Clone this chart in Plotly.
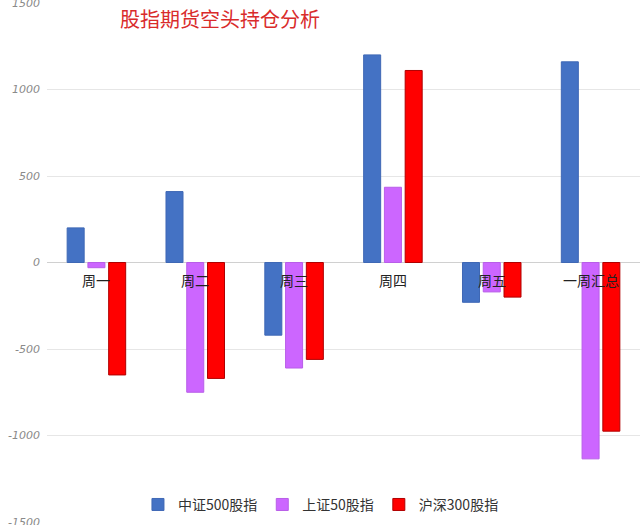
import plotly.graph_objects as go

categories = ["周一", "周二", "周三", "周四", "周五", "一周汇总"]
series_names = ["中证500股指", "上证50股指", "沪深300股指"]
zz500 = [200, 410, -420, 1200, -230, 1160]
sz50 = [-30, -750, -610, 435, -170, -1135]
hs300 = [-650, -670, -560, 1110, -200, -975]
colors = ["#4472C4", "#CC66FF", "#FF0000"]
line_colors = ["#3f68b5", "#b85ee8", "#b00000"]
y_ticks = [-1500, -1000, -500, 0, 500, 1000, 1500]

fig = go.Figure()
for name, vals, c, lc in zip(series_names, [zz500, sz50, hs300], colors, line_colors):
    fig.add_trace(go.Bar(x=categories, y=vals, name=name,
                         marker=dict(color=c, line=dict(color=lc, width=1))))

for cat in categories:
    fig.add_annotation(x=cat, y=0, xref="x", yref="y", text=cat, showarrow=False,
                       yanchor="top", yshift=-5,
                       font=dict(family="Noto Sans CJK SC", size=14, color="#222222"))

fig.update_layout(
    width=640, height=525,
    margin=dict(l=47, r=0, t=3, b=3, autoexpand=False),
    paper_bgcolor="white", plot_bgcolor="white",
    barmode="group", bargap=0.37, bargroupgap=0.18,
    title=dict(text="股指期货空头持仓分析", x=0.1875, xanchor="left", y=0.962, yanchor="middle",
               pad=dict(l=0, r=0, t=0, b=0),
               font=dict(family="Noto Sans CJK SC", size=20, color="#D92B2B")),
    xaxis=dict(showticklabels=False, showgrid=False, zeroline=False, showline=False),
    yaxis=dict(range=[-1500, 1500], tickvals=y_ticks, ticktext=[str(v) for v in y_ticks],
               automargin=False, ticklabeloverflow="allow",
               showgrid=True, gridcolor="#e6e6e6", gridwidth=1,
               zeroline=True, zerolinecolor="#d0d0d0", zerolinewidth=1,
               tickfont=dict(family="DejaVu Sans", size=11, color="#8a8a8a", style="italic"),
               ticks="", ticklabelstandoff=6),
    legend=dict(orientation="h", x=0.462, xanchor="center", y=0.033, yanchor="middle",
                bgcolor="rgba(255,255,255,0)",
                font=dict(family="Noto Sans CJK SC", size=14, color="#333333"),
                itemwidth=30, tracegroupgap=0),
    showlegend=True,
)

fig.write_html("out.html", config={"displayModeBar": False},
               post_script="document.body.style.margin='0';")
